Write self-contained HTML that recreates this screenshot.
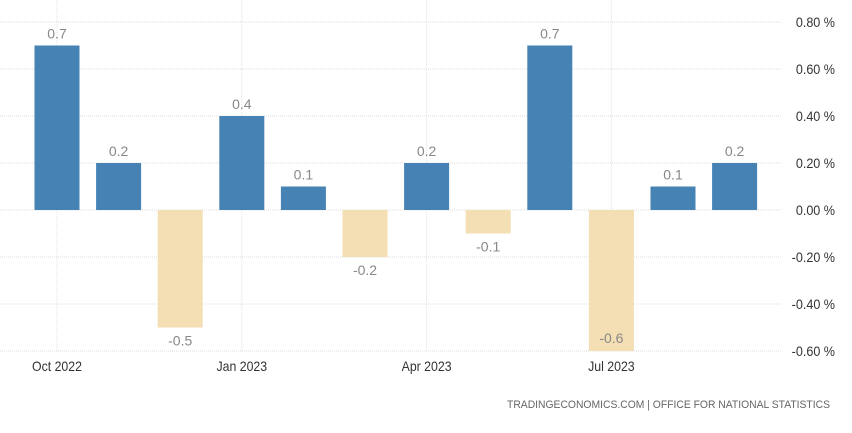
<!DOCTYPE html>
<html><head><meta charset="utf-8"><style>
body{margin:0;background:#fff;width:852px;height:428px;overflow:hidden;font-family:"Liberation Sans",sans-serif}
</style></head><body>
<svg id="chart" width="852" height="428" xmlns="http://www.w3.org/2000/svg">
<g id="grid"></g><g id="bars"></g><g id="labels"></g><g id="axes"></g>
<text x="507" y="408" font-size="11" fill="#666" textLength="323" lengthAdjust="spacingAndGlyphs">TRADINGECONOMICS.COM  |  OFFICE FOR NATIONAL STATISTICS</text>
</svg>
<script>
const categories=["Oct 2022","Nov 2022","Dec 2022","Jan 2023","Feb 2023","Mar 2023","Apr 2023","May 2023","Jun 2023","Jul 2023","Aug 2023","Sep 2023"];
const values=[0.7,0.2,-0.5,0.4,0.1,-0.2,0.2,-0.1,0.7,-0.6,0.1,0.2];
const yTicks=[0.8,0.6,0.4,0.2,0,-0.2,-0.4,-0.6];
const xTickLabels=["Oct 2022","Jan 2023","Apr 2023","Jul 2023"];
const NS="http://www.w3.org/2000/svg";
function y(v){return 210-v*235;}
function x(i){return 57+i*61.6;}
function mk(tag,attrs,parent,text){const e=document.createElementNS(NS,tag);for(const k in attrs)e.setAttribute(k,attrs[k]);if(text!==undefined)e.textContent=text;document.getElementById(parent).appendChild(e);return e;}
yTicks.forEach(t=>{
 const l=mk('line',{x1:0,x2:782,y1:y(t),y2:y(t),stroke:'#ddd','stroke-dasharray':'1,1'},'grid');
 
 
 const tx=mk('text',{x:835,y:y(t)+5,'text-anchor':'end','font-size':'14',fill:'#333',transform:'translate(835,0) scale(0.9,1) translate(-835,0)'},'axes',t.toFixed(2)+' %');
 
 
});
xTickLabels.forEach(lab=>{
 const i=categories.indexOf(lab);
 const l=mk('line',{x1:x(i),x2:x(i),y1:0,y2:351,stroke:'#e2e2e2','stroke-dasharray':'1,1'},'grid');
 
 
 const tx=mk('text',{x:x(i),y:371,'text-anchor':'middle','font-size':'14',fill:'#333',transform:'translate('+x(i)+',0) scale(0.88,1) translate('+(-x(i))+',0)'},'axes',lab);
 
 
});
values.forEach((v,i)=>{
 const top=Math.min(y(v),y(0)),h=Math.abs(y(v)-y(0));
 const r=mk('rect',{x:x(i)-22.5,y:top,width:45,height:h,fill:v>=0?'#4682b4':'#f4deb3'},'bars');
 
 
 let ly=v>=0?y(v)-7:y(v)+18;
 if(ly>348)ly=y(v)-8;
 const t=mk('text',{x:x(i),y:ly,'text-anchor':'middle','font-size':'14',fill:'#888'},'labels',String(v));
 
 
});
</script>
</body></html>
